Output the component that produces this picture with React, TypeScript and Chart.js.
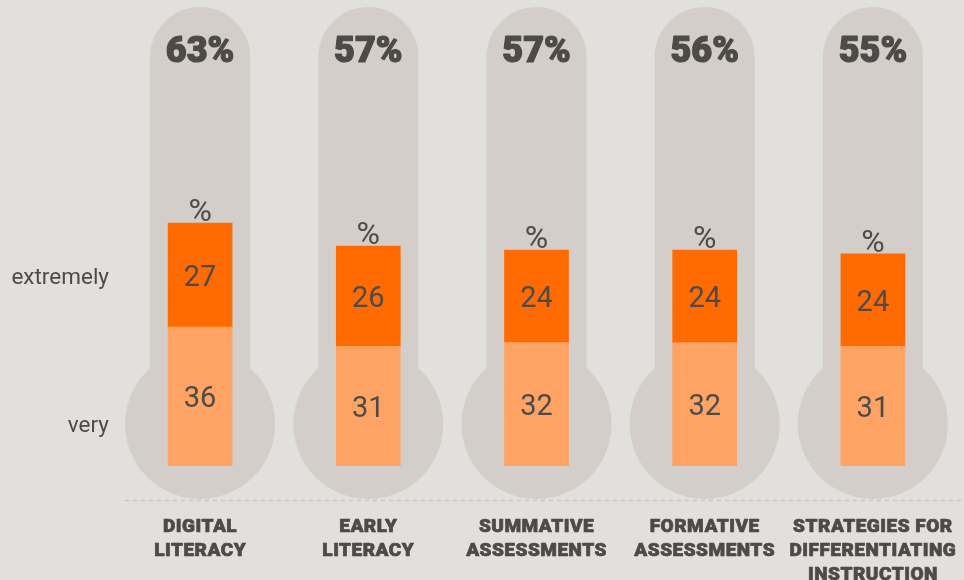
import React, { useEffect, useRef } from "react";
import { Chart, registerables } from "chart.js";

Chart.register(...registerables);

const categories: string[][] = [
  ["DIGITAL", "LITERACY"],
  ["EARLY", "LITERACY"],
  ["SUMMATIVE", "ASSESSMENTS"],
  ["FORMATIVE", "ASSESSMENTS"],
  ["STRATEGIES FOR", "DIFFERENTIATING", "INSTRUCTION"],
];
const veryValues = [36, 31, 32, 32, 31];
const extremelyValues = [27, 26, 24, 24, 24];
const totalLabels = ["63%", "57%", "57%", "56%", "55%"];
const seriesNames = ["very", "extremely"];

const BG = "#e1e0dc";
const TUBE = "#d3cec9";
const DARK = "#ff6b00";
const LIGHT = "#ffa364";
const TEXT = "#4d4a47";
const FONT = "Roboto, 'Noto Sans', sans-serif";

const thermoPlugin = {
  id: "thermo",
  beforeDatasetsDraw(chart: any) {
    const { ctx, chartArea } = chart;
    const xs = chart.scales.x;
    const ys = chart.scales.y;
    const zeroY = ys.getPixelForValue(0);
    ctx.save();
    ctx.fillStyle = TUBE;
    for (let i = 0; i < categories.length; i++) {
      const cx = xs.getPixelForValue(i);
      const bulbY = zeroY - 42;
      ctx.beginPath();
      ctx.arc(cx, chartArea.top + 50, 50, Math.PI, 0);
      ctx.lineTo(cx + 50, bulbY);
      ctx.lineTo(cx - 50, bulbY);
      ctx.closePath();
      ctx.fill();
      ctx.beginPath();
      ctx.arc(cx, bulbY, 75, 0, Math.PI * 2);
      ctx.fill();
    }
    ctx.strokeStyle = "#c9c5c1";
    ctx.lineWidth = 1.5;
    ctx.setLineDash([4, 4]);
    ctx.beginPath();
    ctx.moveTo(125, zeroY + 34.5);
    ctx.lineTo(chart.width, zeroY + 34.5);
    ctx.stroke();
    ctx.restore();
  },
  afterDatasetsDraw(chart: any) {
    const { ctx } = chart;
    const xs = chart.scales.x;
    const ys = chart.scales.y;
    const zeroY = ys.getPixelForValue(0);
    ctx.save();
    ctx.fillStyle = TEXT;
    ctx.strokeStyle = TEXT;
    ctx.lineJoin = "round";
    ctx.textAlign = "center";
    ctx.textBaseline = "alphabetic";
    for (let i = 0; i < categories.length; i++) {
      const cx = xs.getPixelForValue(i);
      ctx.font = `900 36px ${FONT}`;
      ctx.lineWidth = 1.2;
      ctx.fillText(totalLabels[i], cx, 62);
      ctx.strokeText(totalLabels[i], cx, 62);
      const v = veryValues[i];
      const e = extremelyValues[i];
      const yV = ys.getPixelForValue(v);
      const yT = ys.getPixelForValue(v + e);
      ctx.font = `29px ${FONT}`;
      ctx.fillText(String(v), cx, (zeroY + yV) / 2 + 10.5);
      ctx.fillText(String(e), cx, (yV + yT) / 2 + 10.5);
      ctx.font = `32px ${FONT}`;
      ctx.fillText("%", cx, yT - 2);
      ctx.font = `900 19px ${FONT}`;
      (ctx as any).letterSpacing = "0.5px";
      ctx.lineWidth = 0.7;
      categories[i].forEach((line, k) => {
        ctx.fillText(line, cx, zeroY + 66 + k * 24);
        ctx.strokeText(line, cx, zeroY + 66 + k * 24);
      });
      (ctx as any).letterSpacing = "0px";
    }
    ctx.font = `22.5px ${FONT}`;
    ctx.textAlign = "right";
    ctx.fillText(seriesNames[1], 109, 284);
    ctx.fillText(seriesNames[0], 109, 432);
    ctx.restore();
  },
};

export default function App() {
  const ref = useRef<HTMLCanvasElement | null>(null);
  useEffect(() => {
    document.body.style.margin = "0";
    document.body.style.background = BG;
    const canvas = ref.current;
    if (!canvas) return;
    const chart = new Chart(canvas, {
      type: "bar",
      data: {
        labels: categories.map((c) => c.join(" ")),
        datasets: [
          { label: seriesNames[0], data: veryValues, backgroundColor: LIGHT, barThickness: 64 },
          { label: seriesNames[1], data: extremelyValues, backgroundColor: DARK, barThickness: 64 },
        ],
      },
      options: {
        responsive: false,
        animation: false,
        layout: { padding: { left: 116, right: 7, top: 7, bottom: 114 } },
        scales: {
          x: { stacked: true, display: false },
          y: { stacked: true, display: false, min: 0, max: 119 },
        },
        plugins: {
          legend: { display: false },
          tooltip: { enabled: false },
        },
      },
      plugins: [thermoPlugin],
    });
    return () => chart.destroy();
  }, []);
  return (
    <div style={{ position: "absolute", left: 0, top: 0, width: 964, height: 580, background: BG }}>
      <canvas ref={ref} width={964} height={580} style={{ width: 964, height: 580, display: "block" }} />
    </div>
  );
}
